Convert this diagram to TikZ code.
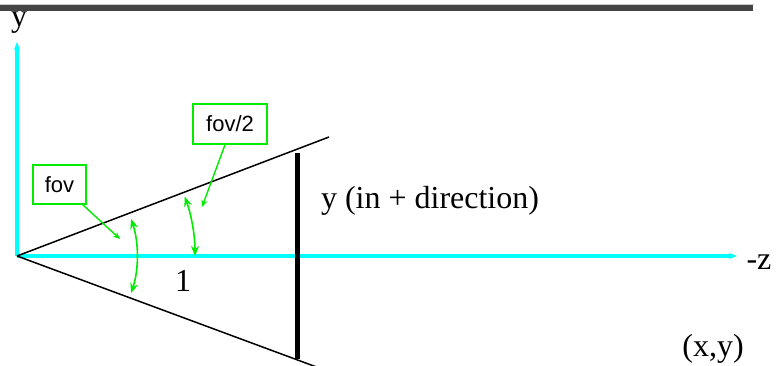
\documentclass[tikz,border=0pt]{standalone}
\usepackage{fontspec}
\setmainfont{Liberation Serif}
\setsansfont{Liberation Sans}
\usetikzlibrary{arrows.meta,positioning,calc}

\definecolor{fovgreen}{RGB}{0,235,0}
\definecolor{axiscyan}{RGB}{0,255,255}
\definecolor{bargray}{RGB}{68,68,68}

\tikzset{
  axis/.style={draw=axiscyan,line width=3.2pt,-{Stealth[length=8pt,width=6pt]}},
  cone/.style={draw=black,line width=1.5pt},
  angarc/.style={draw=fovgreen,line width=1.6pt,{Stealth[length=10pt,width=8pt]}-{Stealth[length=10pt,width=8pt]}},
  leader/.style={draw=fovgreen,line width=1.4pt,-{Stealth[length=7pt,width=6pt]}},
  lbl/.style={draw=fovgreen,line width=1.5pt,fill=white,font=\sffamily\fontsize{22}{26}\selectfont,inner sep=0pt},
  serif/.style={font=\fontsize{32}{36}\selectfont,inner sep=0pt}
}

\begin{document}
\begin{tikzpicture}[x=1pt,y=1pt]
\useasboundingbox (0,0) rectangle (778,365);
\clip (0,0) rectangle (778,365);
% header rule
\fill[gray!40] (0,359.5) rectangle (753.5,361);
\fill[bargray] (0,354) rectangle (753,360);

\coordinate (O) at (17,109);
\coordinate (ytip) at (17,323);
\coordinate (ztip) at (737,109);
\coordinate (up) at (329,228);
\coordinate (low) at (330,-7);

% axes
\draw[axis] (O) -- (ytip);
\draw[axis] (O) -- (ztip);
\node[serif] (ylab) at (19,342) {y};
\node[serif] (zlab) at (759,103) {-z};

% view cone and image plane
\draw[cone] (O) -- (up);
\draw[cone] (O) -- (low);
\draw[line width=4.5pt] (297.5,212) -- (297.5,6);
\node[serif] (dir) at (430,164) {y (in + direction)};
\node[serif] (one) at (183,84) {1};
\node[serif] (pt) at (713,16) {(x,y)};

% angles
\draw[angarc] ($(O)+(18:120)$) arc[start angle=18,end angle=-18,radius=120];
\draw[angarc] ($(O)+(19.5:178)$) arc[start angle=19.5,end angle=0,radius=178];

% labels
\node[lbl,minimum width=53pt,minimum height=39pt] (fov) at (59.5,180.5) {fov};
\node[lbl,minimum width=74pt,minimum height=40pt] (half) at (230,241) {fov/2};
\coordinate (fovtip) at (120,126);
\coordinate (halftip) at (202,158);
\draw[leader] ([xshift=-4pt]fov.south east) -- (fovtip);
\draw[leader] ([xshift=-5pt]half.south) -- (halftip);
\end{tikzpicture}
\end{document}
